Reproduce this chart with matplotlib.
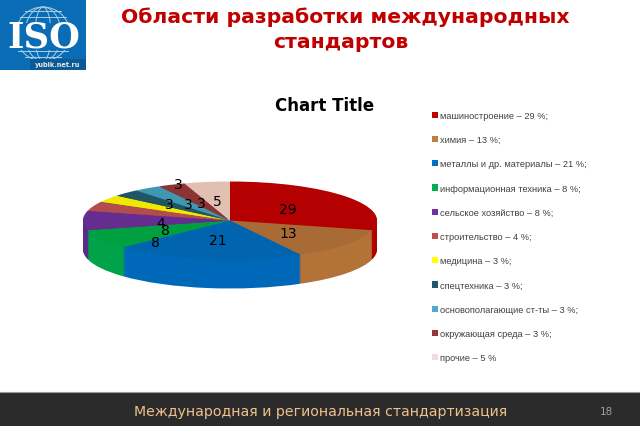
# -*- coding: utf-8 -*-
import matplotlib
matplotlib.use('Agg')
import matplotlib.pyplot as plt
from matplotlib.patches import Rectangle, Ellipse, Patch

# данные
names = ['машиностроение – 29 %;', 'химия – 13 %;', 'металлы и др. материалы – 21 %;',
         'информационная техника – 8 %;', 'сельское хозяйство – 8 %;', 'строительство – 4 %;',
         'медицина – 3 %;', 'спецтехника – 3 %;', 'основополагающие ст-ты – 3 %;',
         'окружающая среда – 3 %;', 'прочие – 5 %']
values = [29, 13, 21, 8, 8, 4, 3, 3, 3, 3, 5]

top_colors = ['#b40000', '#a96b36', '#0064ae', '#00a040', '#662d91', '#b34d4d',
              '#f0e800', '#1f5566', '#4097b0', '#8c3333', '#e0c0b0']
side_colors = ['#b00000', '#b27238', '#0068b8', '#00a24a', '#5c2a86', '#a84848',
               '#e0d800', '#1c4e5e', '#3a8ca4', '#803030', '#d8b8a8']
legend_colors = ['#c00000', '#c07f40', '#0070c0', '#00b050', '#7030a0', '#c0504d',
                 '#ffff00', '#215968', '#4bacc6', '#953735', '#f2dcdb']

W, H = 640, 427
RAD_Y = 39.0    # полуось эллипса, px
DEPTH = 29      # высота боковой стенки, px
CY = 221.5      # центр пирога по y, px

fig = plt.figure(figsize=(6.4, 4.27), dpi=100)

# пирог: сплюснутая ось, x -1..1 = 83..377 px
left, right, top, bottom = 81, 379, 180, 292
ax = fig.add_axes([left / W, 1 - bottom / H, (right - left) / W, (bottom - top) / H])
for d in range(DEPTH, 0, -1):
    ax.pie(values, colors=side_colors, startangle=90, counterclock=False,
           center=(0, -d / RAD_Y), wedgeprops={'linewidth': 0})
ax.pie(values, colors=top_colors, startangle=90, counterclock=False,
       wedgeprops={'linewidth': 0})
ax.set_aspect('auto')
ax.set_xlim((left - 230) / 147, (right - 230) / 147)
ax.set_ylim((CY - bottom) / RAD_Y, (CY - top) / RAD_Y)

# все остальное рисуем в пикселях
ov = fig.add_axes([0, 0, 1, 1], zorder=5)
ov.set_xlim(0, W)
ov.set_ylim(H, 0)
ov.axis('off')
ov.patch.set_alpha(0)

# логотип
ov.add_patch(Rectangle((0, 0), 86, 70.5, color='#0a6cb4', lw=0))
for w in [54, 36, 16]:
    ov.add_patch(Ellipse((43, 35), w, 54, fill=False, ec='#a8cfe8', lw=0.7))
for w, y0 in [(46, 18), (50, 52), (36, 12), (36, 58)]:
    ov.plot([43 - w / 2, 43 + w / 2], [y0, y0], color='#a8cfe8', lw=0.7)
ov.add_patch(Rectangle((2, 24), 82, 27, color='#0a6cb4', lw=0))
ov.text(43.5, 37.5, 'ISO', color='white', fontsize=25.5, fontweight='bold',
        family='DejaVu Serif', ha='center', va='center')
ov.add_patch(Rectangle((30, 60), 56, 10.5, color='#0a5a96', lw=0))
ov.text(57.5, 65.5, 'yubik.net.ru', color='#e8e8e8', fontsize=4.8, fontweight='bold',
        ha='center', va='center')

# заголовки
ov.text(345, 17, 'Области разработки международных', color='#c00000', fontsize=14.7,
        fontweight='bold', ha='center', va='center')
ov.text(341, 42, 'стандартов', color='#c00000', fontsize=14.7,
        fontweight='bold', ha='center', va='center')
ov.text(325, 106, 'Chart Title', color='black', fontsize=12, fontweight='bold',
        ha='center', va='center')

# подписи значений
label_xy = [(288, 210), (288, 234), (218, 241), (165, 231), (155, 243), (161, 224),
            (169, 205), (188, 205), (201, 204), (178, 185), (217, 202)]
for v, (x, y) in zip(values, label_xy):
    ov.text(x, y, str(v), color='black', fontsize=10, ha='center', va='center')

# легенда
handles = [Patch(color=c, lw=0) for c in legend_colors]
ov.legend(handles, names, loc='upper left', bbox_to_anchor=(432 / W, 1 - 112 / H),
          frameon=False, labelcolor='#404040', handlelength=0.65, handleheight=0.65,
          handletextpad=0.25, labelspacing=1.65, borderaxespad=0, borderpad=0,
          prop={'family': 'Liberation Sans', 'size': 6.65})

# нижняя полоса
ov.add_patch(Rectangle((0, 393), W, 34, color='#2b2b2b', lw=0))
ov.plot([0, W], [392.5, 392.5], color='#9a9a9a', lw=0.8)
ov.text(320.5, 412, 'Международная и региональная стандартизация', color='#eec08c',
        fontsize=10.2, ha='center', va='center')
ov.text(606, 412, '18', color='#a0a0a0', fontsize=7.5, ha='center', va='center')

fig.savefig('out.png', dpi=100)
